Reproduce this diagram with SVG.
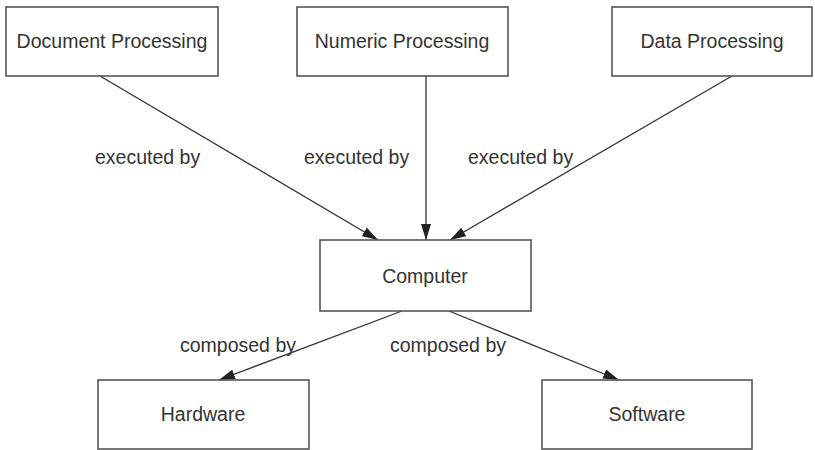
<svg xmlns="http://www.w3.org/2000/svg" width="815" height="450" viewBox="0 0 815 450">
<defs>
<marker id="arr" viewBox="0 0 16 10" refX="16" refY="5" markerWidth="16" markerHeight="10" markerUnits="userSpaceOnUse" orient="auto">
<path d="M0,0 L16,5 L0,10 z" fill="#222"/>
</marker>
<style>
.box{fill:#fff;stroke:#555;stroke-width:1.6}
.t{font-family:"Liberation Sans",Arial,sans-serif;font-size:19.5px;fill:#333}
.c{text-anchor:middle}
.ln{stroke:#333;stroke-width:1.3;fill:none;marker-end:url(#arr)}
</style>
</defs>
<rect width="815" height="450" fill="#fff"/>
<g id="connectors">
<line class="ln" x1="100" y1="76" x2="378" y2="240"/>
<line class="ln" x1="426" y1="76" x2="426" y2="240"/>
<line class="ln" x1="732" y1="76" x2="450" y2="240"/>
<line class="ln" x1="402" y1="311" x2="219" y2="380"/>
<line class="ln" x1="449" y1="311" x2="619" y2="380"/>
<text class="t" x="95" y="164">executed by</text>
<text class="t" x="304" y="164">executed by</text>
<text class="t" x="468" y="164">executed by</text>
<text class="t" x="180" y="352">composed by</text>
<text class="t" x="390" y="352">composed by</text>
</g>
<g id="doc"><rect class="box" x="6" y="7" width="212" height="69"/><text class="t c" x="112" y="48">Document Processing</text></g>
<g id="num"><rect class="box" x="297" y="7" width="211" height="69"/><text class="t c" x="402" y="48">Numeric Processing</text></g>
<g id="data"><rect class="box" x="612" y="7" width="200" height="69"/><text class="t c" x="712" y="48">Data Processing</text></g>
<g id="computer"><rect class="box" x="320" y="240" width="211" height="71"/><text class="t c" x="425" y="283">Computer</text></g>
<g id="hardware"><rect class="box" x="98" y="380" width="211" height="69"/><text class="t c" x="203" y="421">Hardware</text></g>
<g id="software"><rect class="box" x="542" y="380" width="210" height="69"/><text class="t c" x="647" y="421">Software</text></g>
</svg>
